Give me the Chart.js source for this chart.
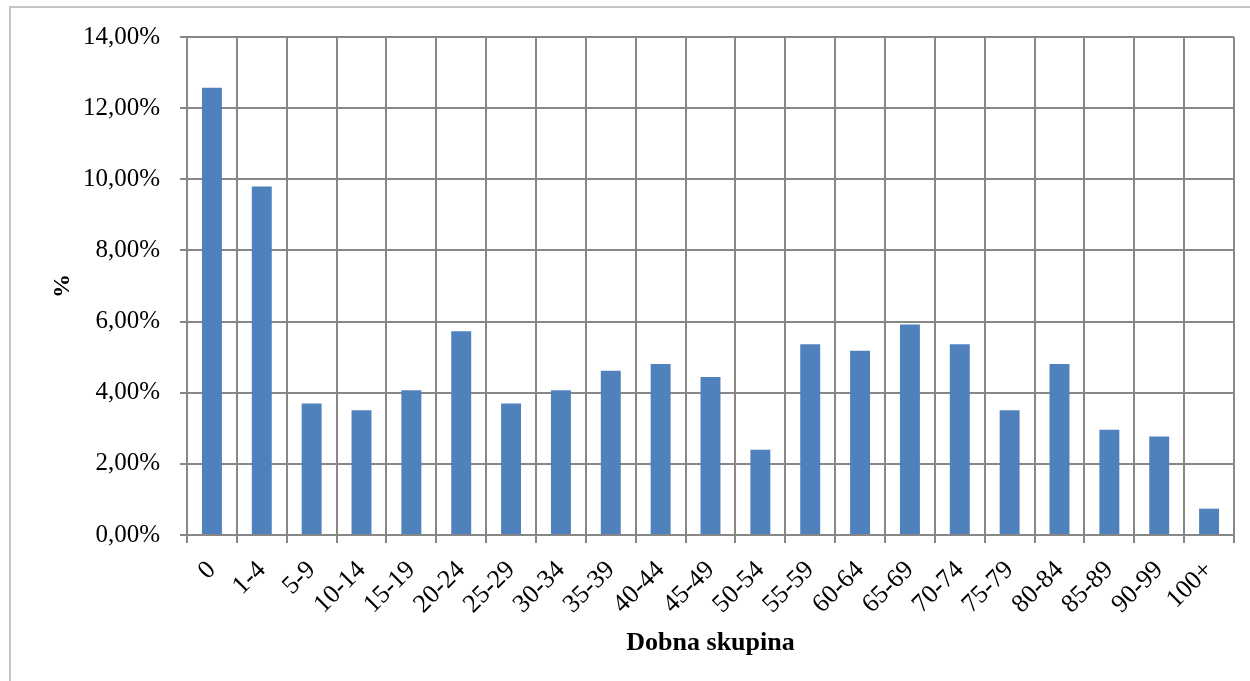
<!DOCTYPE html>
<html lang="sl">
<head>
  <meta charset="UTF-8" />
  <title>Dobna skupina</title>
  <script src="https://cdn.jsdelivr.net/npm/chart.js"></script>
  <style>
    html, body {
      margin: 0;
      padding: 0;
      background: #fff;
      overflow: hidden;
    }
    .wrap {
      position: relative;
      width: 1250px;
      height: 681px;
    }
    /* thin frame round the chart object, only left and top visible */
    .frame {
      position: absolute;
      left: 9px;
      top: 6px;
      width: 1300px;
      height: 700px;
      border-left: 2px solid #c6c6c6;
      border-top: 2px solid #c6c6c6;
      pointer-events: none;
    }
    canvas {
      position: absolute;
      left: 0;
      top: 0;
    }
  </style>
</head>
<body>
<div class="wrap">
  <canvas id="chart" width="1250" height="681"></canvas>
  <div class="frame"></div>
</div>

<script>
  // age groups and share of cases (%)
  const groups = ['0', '1-4', '5-9', '10-14', '15-19', '20-24', '25-29', '30-34', '35-39', '40-44',
    '45-49', '50-54', '55-59', '60-64', '65-69', '70-74', '75-79', '80-84', '85-89', '90-99', '100+'];
  const shares = [12.57, 9.80, 3.70, 3.51, 4.07, 5.73, 3.70, 4.07, 4.62, 4.81,
    4.44, 2.40, 5.36, 5.18, 5.92, 5.36, 3.51, 4.81, 2.96, 2.77, 0.74];
  const yMax = 14;
  const yStep = 2;

  const serif = "'Liberation Serif', 'Times New Roman', serif";
  const gridCol = '#878787';

  new Chart(document.getElementById('chart'), {
    type: 'bar',
    data: {
      labels: groups,
      datasets: [{
        data: shares,
        backgroundColor: '#4f81bd',
        borderWidth: 0,
        barPercentage: 0.4,
        categoryPercentage: 1.0
      }]
    },
    options: {
      responsive: false,
      animation: false,
      layout: { padding: { top: 37, right: 16, left: 0, bottom: 0 } },
      plugins: {
        legend: { display: false },
        tooltip: { enabled: false }
      },
      scales: {
        x: {
          grid: { color: gridCol, lineWidth: 2, tickLength: 8, offset: true },
          border: { color: gridCol, width: 2 },
          ticks: {
            color: '#000',
            font: { family: serif, size: 26 },
            minRotation: 45,
            maxRotation: 45,
            padding: 12,
            autoSkip: false
          },
          title: {
            display: true,
            text: 'Dobna skupina',
            color: '#000',
            font: { family: serif, size: 26, weight: 'bold' },
            padding: { top: 0, bottom: 22 }
          },
          afterFit: s => { s.height = 146; }
        },
        y: {
          min: 0,
          max: yMax,
          grid: { color: gridCol, lineWidth: 2, tickLength: 7 },
          border: { color: gridCol, width: 2 },
          ticks: {
            stepSize: yStep,
            color: '#000',
            font: { family: serif, size: 25 },
            padding: 20,
            callback: v => v.toFixed(2).replace('.', ',') + '%'
          },
          title: {
            display: true,
            text: '%',
            color: '#000',
            font: { family: serif, size: 24, weight: 'bold' },
            padding: { top: 48, bottom: 0 }
          },
          afterFit: s => { s.width = 187; }
        }
      }
    }
  });
</script>
</body>
</html>
